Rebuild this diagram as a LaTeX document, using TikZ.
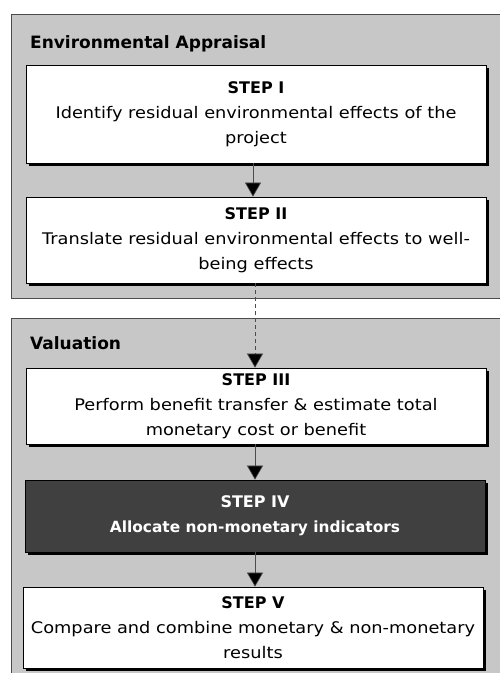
\documentclass[tikz,border=0pt]{standalone}
\usepackage{fontspec}
\setmainfont[FakeStretch=1.11, BoldFeatures={FakeStretch=1.0}]{DejaVu Sans}
\usetikzlibrary{arrows.meta}
\pgfdeclarelayer{panels}
\pgfdeclarelayer{shades}
\pgfsetlayers{panels,shades,main}
\tikzset{
  panelfill/.style={fill=black!22},
  paneledge/.style={draw=black!70, line width=0.8pt},
  paneltitle/.style={anchor=west, font=\bfseries\fontsize{17}{20}\selectfont, inner sep=0pt},
  stepbox/.style={draw=black, line width=0.7pt, fill=white, minimum width=460pt,
    align=center, inner sep=0pt, font=\fontsize{16}{25}\selectfont},
  darkbox/.style={stepbox, fill=black!75, text=white, font=\bfseries\fontsize{16}{25}\selectfont},
  boxshade/.style={fill=black},
  flow/.style={draw=black!70, line width=0.6pt, -{Triangle[width=16pt,length=14pt,fill=black]}},
  gapflow/.style={flow, dashed, dash pattern=on 4pt off 3pt}
}
\begin{document}
\begin{tikzpicture}[x=1pt, y=-1pt]
\useasboundingbox (0,0) rectangle (500,673);

% steps
\node[stepbox, minimum height=98pt] (s1) at (256,114)
  {\textbf{STEP I}\\Identify residual environmental effects of the\\project};
\node[stepbox, minimum height=86pt] (s2) at (256,240)
  {\textbf{STEP II}\\Translate residual environmental effects to well-\\being effects};
\node[stepbox, minimum height=76pt] (s3) at (256,406)
  {\textbf{STEP III}\\Perform benefit transfer \& estimate total\\monetary cost or benefit};
\node[darkbox, minimum height=72pt] (s4) at (255,516)
  {STEP IV\\{\fontsize{15.4}{25}\selectfont Allocate non-monetary indicators}};
\node[stepbox, minimum height=81pt] (s5) at (253,627.5)
  {\textbf{STEP V}\\Compare and combine monetary \& non-monetary\\results};

% black drop shadows, offset down and to the right
\begin{pgfonlayer}{shades}
  \foreach \b in {s1,s2,s3,s4,s5}
    \fill[boxshade] ([xshift=3pt,yshift=-3pt]\b.north west) rectangle ([xshift=3pt,yshift=-3pt]\b.south east);
\end{pgfonlayer}

% two shaded panels running off the right and bottom edges
\begin{pgfonlayer}{panels}
  \fill[panelfill] (11,14) rectangle (520,298);
  \draw[paneledge] (520,14) -- (11,14) -- (11,298) -- (520,298);
  \fill[panelfill] (11,318) rectangle (520,690);
  \draw[paneledge] (520,318) -- (11,318) -- (11,690);
\end{pgfonlayer}
\node[paneltitle] (t1) at (30,44) {Environmental Appraisal};
\node[paneltitle] (t2) at (30,343) {Valuation};

% connectors
\draw[flow] (s1.south -| 253,0) -- (s2.north -| 253,0);
\draw[gapflow] (s2.south -| 255,0) -- (s3.north -| 255,0);
\draw[flow] (s3.south -| 255,0) -- (s4.north -| 255,0);
\draw[flow] (s4.south -| 255,0) -- (s5.north -| 255,0);
\end{tikzpicture}
\end{document}
